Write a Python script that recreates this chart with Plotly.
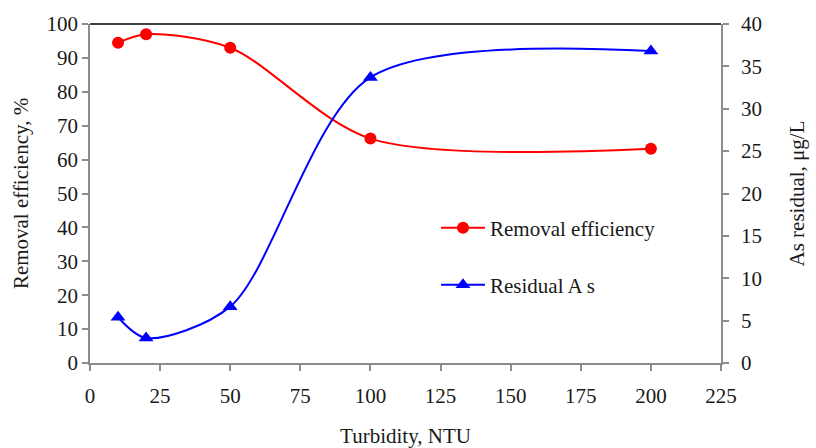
import plotly.graph_objects as go

turbidity = [10, 20, 50, 100, 200]
removal_eff = [94.5, 97.0, 93.0, 66.2, 63.2]
residual_as = [5.4, 2.95, 6.65, 33.7, 36.8]

x_ticks = [0, 25, 50, 75, 100, 125, 150, 175, 200, 225]
font_family = "Liberation Serif"
axis_gray = "#8c8c8c"
fs = 21

fig = go.Figure()
fig.add_trace(go.Scatter(
    x=turbidity, y=removal_eff, name="Removal efficiency",
    mode="lines+markers", line=dict(color="#FF0000", width=2, shape="spline", smoothing=0.85),
    marker=dict(symbol="circle", size=12, color="#FF0000"),
    legend="legend",
))
fig.add_trace(go.Scatter(
    x=turbidity, y=residual_as, name="Residual A s", yaxis="y2",
    mode="lines+markers", line=dict(color="#0000FF", width=2, shape="spline", smoothing=0.85),
    marker=dict(symbol="triangle-up", size=13, color="#0000FF"),
    legend="legend2",
))

tickfont = dict(family=font_family, size=fs, color="#1a1a1a")
titlefont = dict(family=font_family, size=fs, color="#1a1a1a")
fig.update_layout(
    width=816, height=448,
    margin=dict(l=90, r=95, t=24, b=85),
    paper_bgcolor="white", plot_bgcolor="white",
    font=dict(family=font_family, size=fs, color="#1a1a1a"),
    xaxis=dict(
        range=[0, 225], tickvals=x_ticks, showgrid=False, zeroline=False, automargin=False,
        showline=True, linecolor=axis_gray, linewidth=1.5,
        ticks="outside", ticklen=6, tickcolor=axis_gray, tickwidth=1.5,
        tickfont=tickfont, ticklabelstandoff=7,
        title=dict(text="Turbidity, NTU", font=titlefont, standoff=27),
    ),
    yaxis=dict(
        range=[0, 100], dtick=10, showgrid=False, zeroline=False, automargin=False,
        showline=True, linecolor=axis_gray, linewidth=1.5,
        ticks="outside", ticklen=6, tickcolor=axis_gray, tickwidth=1.5,
        tickfont=tickfont,
        title=dict(text="Removal efficiency, %", font=titlefont, standoff=12),
    ),
    yaxis2=dict(
        range=[0, 40], dtick=5, overlaying="y", side="right", showgrid=False, zeroline=False,
        automargin=False,
        showline=True, linecolor=axis_gray, linewidth=1.5,
        ticks="outside", ticklen=6, tickcolor=axis_gray, tickwidth=1.5,
        tickfont=tickfont, ticklabelstandoff=8,
        title=dict(text="As residual, μg/L", font=titlefont, standoff=28),
    ),
    legend=dict(x=(436 - 90) / 631, y=(363 - 228) / 339, xanchor="left", yanchor="middle",
                bgcolor="rgba(0,0,0,0)", font=titlefont, itemwidth=44),
    legend2=dict(x=(436 - 90) / 631, y=(363 - 285) / 339, xanchor="left", yanchor="middle",
                 bgcolor="rgba(0,0,0,0)", font=titlefont, itemwidth=44),
    showlegend=True,
)
fig.add_shape(type="line", xref="paper", yref="paper", x0=0, x1=1, y0=1, y1=1,
              line=dict(color="#000000", width=1.5))

fig.write_html("out.html")
